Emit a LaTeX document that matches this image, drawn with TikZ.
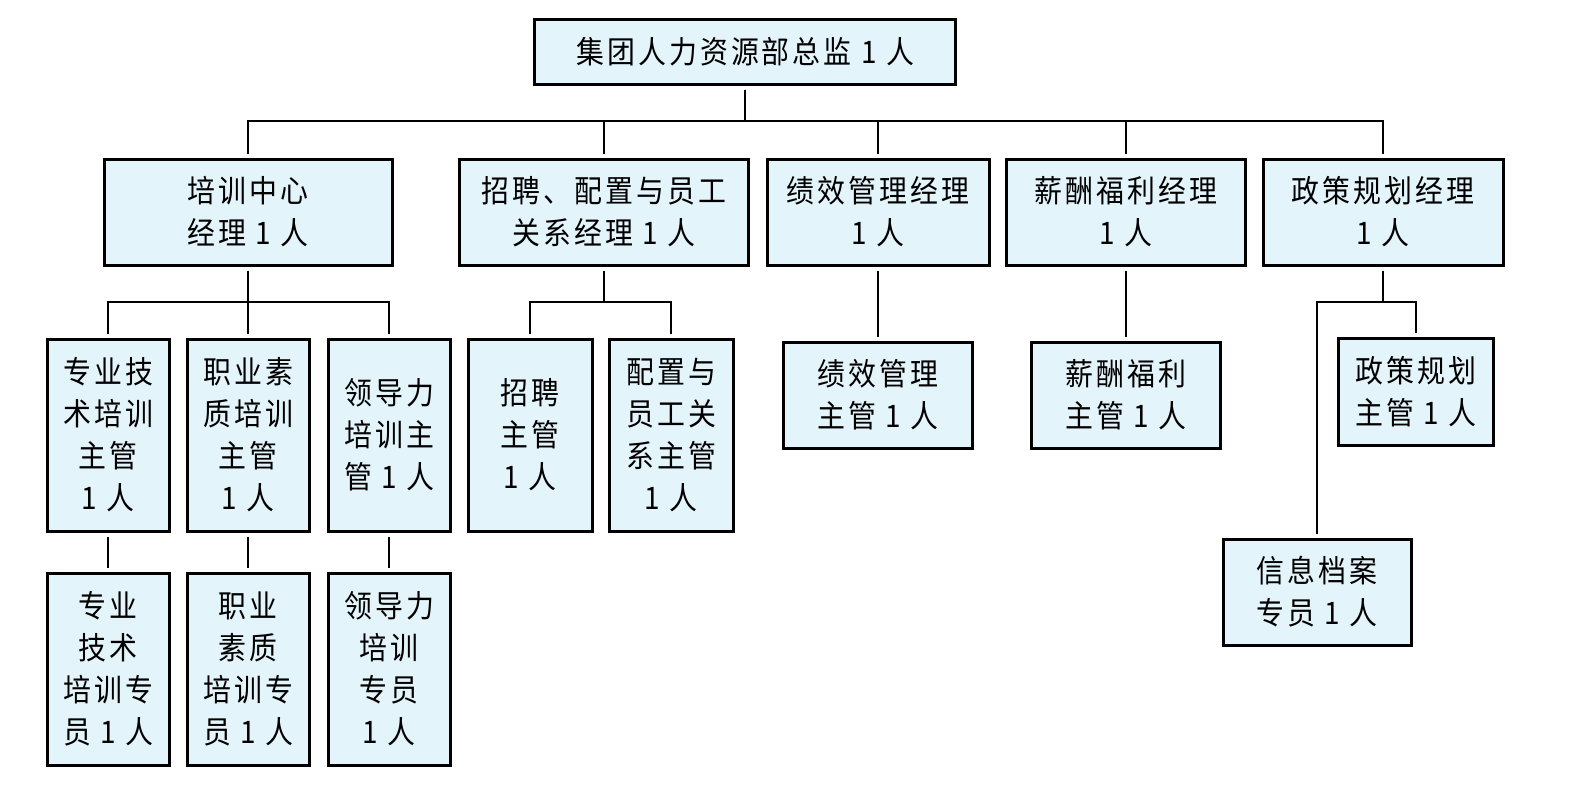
\documentclass[tikz,border=0pt]{standalone}
\usepackage{fontspec}
\newfontfamily\cjkfont[FakeStretch=0.9,LetterSpace=10]{Noto Sans CJK SC}
\usetikzlibrary{positioning,calc}
\definecolor{cBox}{HTML}{E4F4FB}

\begin{document}
\begin{tikzpicture}[
  x=1pt, y=-1pt,
  font=\cjkfont\fontsize{31}{42}\selectfont,
  box/.style={draw, line width=3pt, fill=cBox, align=center, inner sep=0pt},
  link/.style={line width=1.3pt, shorten <=4pt, shorten >=4pt},
]
\useasboundingbox (0,0) rectangle (1586,784);

% ── director ──────────────────────────────────────────────────────────────
\node[box, minimum width=421pt, minimum height=64pt] (head) at (745,52) {集团人力资源部总监 1 人};

% ── managers ──────────────────────────────────────────────────────────────
\node[box, minimum width=288pt, minimum height=106pt] (train) at (248,212) {培训中心\\经理 1 人};
\node[box, minimum width=289pt, minimum height=106pt] (recruit) at (604,212) {招聘、配置与员工\\关系经理 1 人};
\node[box, minimum width=222pt, minimum height=106pt] (perf) at (878,212) {绩效管理经理\\1 人};
\node[box, minimum width=239pt, minimum height=106pt] (salary) at (1126,212) {薪酬福利经理\\1 人};
\node[box, minimum width=240pt, minimum height=106pt] (policy) at (1383,212) {政策规划经理\\1 人};

% ── supervisors ───────────────────────────────────────────────────────────
\node[box, minimum width=122pt, minimum height=192pt] (techSup) at (108,435) {专业技\\术培训\\主管\\1 人};
\node[box, minimum width=122pt, minimum height=192pt] (qualSup) at (248,435) {职业素\\质培训\\主管\\1 人};
\node[box, minimum width=122pt, minimum height=192pt] (leadSup) at (389,435) {领导力\\培训主\\管 1 人};
\node[box, minimum width=124pt, minimum height=192pt] (hireSup) at (530,435) {招聘\\主管\\1 人};
\node[box, minimum width=124pt, minimum height=192pt] (relSup) at (671,435) {配置与\\员工关\\系主管\\1 人};
\node[box, minimum width=189pt, minimum height=106pt] (perfSup) at (878,395) {绩效管理\\主管 1 人};
\node[box, minimum width=189pt, minimum height=106pt] (salSup) at (1126,395) {薪酬福利\\主管 1 人};
\node[box, minimum width=155pt, minimum height=107pt] (polSup) at (1416,392) {政策规划\\主管 1 人};

% ── specialists ───────────────────────────────────────────────────────────
\node[box, minimum width=122pt, minimum height=192pt] (techSpec) at (108,669) {专业\\技术\\培训专\\员 1 人};
\node[box, minimum width=122pt, minimum height=192pt] (qualSpec) at (248,669) {职业\\素质\\培训专\\员 1 人};
\node[box, minimum width=122pt, minimum height=192pt] (leadSpec) at (389,669) {领导力\\培训\\专员\\1 人};
\node[box, minimum width=188pt, minimum height=106pt] (archive) at (1317,592) {信息档案\\专员 1 人};

% ── buses ─────────────────────────────────────────────────────────────────
\coordinate (busA) at (0,121);
\coordinate (busB) at (0,302);

% ── connectors ────────────────────────────────────────────────────────────
\foreach \n in {train,recruit,perf,salary,policy}
  \draw[link] (head.south) -- (head.south |- busA) -| (\n.north);
\foreach \n in {techSup,qualSup,leadSup}
  \draw[link] (train.south) -- (train.south |- busB) -| (\n.north);
\foreach \n in {hireSup,relSup}
  \draw[link] (recruit.south) -- (recruit.south |- busB) -| (\n.north);
\foreach \n in {polSup,archive}
  \draw[link] (policy.south) -- (policy.south |- busB) -| (\n.north);
\draw[link] (perf) -- (perfSup);
\draw[link] (salary) -- (salSup);
\draw[link] (techSup) -- (techSpec);
\draw[link] (qualSup) -- (qualSpec);
\draw[link] (leadSup) -- (leadSpec);
\end{tikzpicture}
\end{document}
